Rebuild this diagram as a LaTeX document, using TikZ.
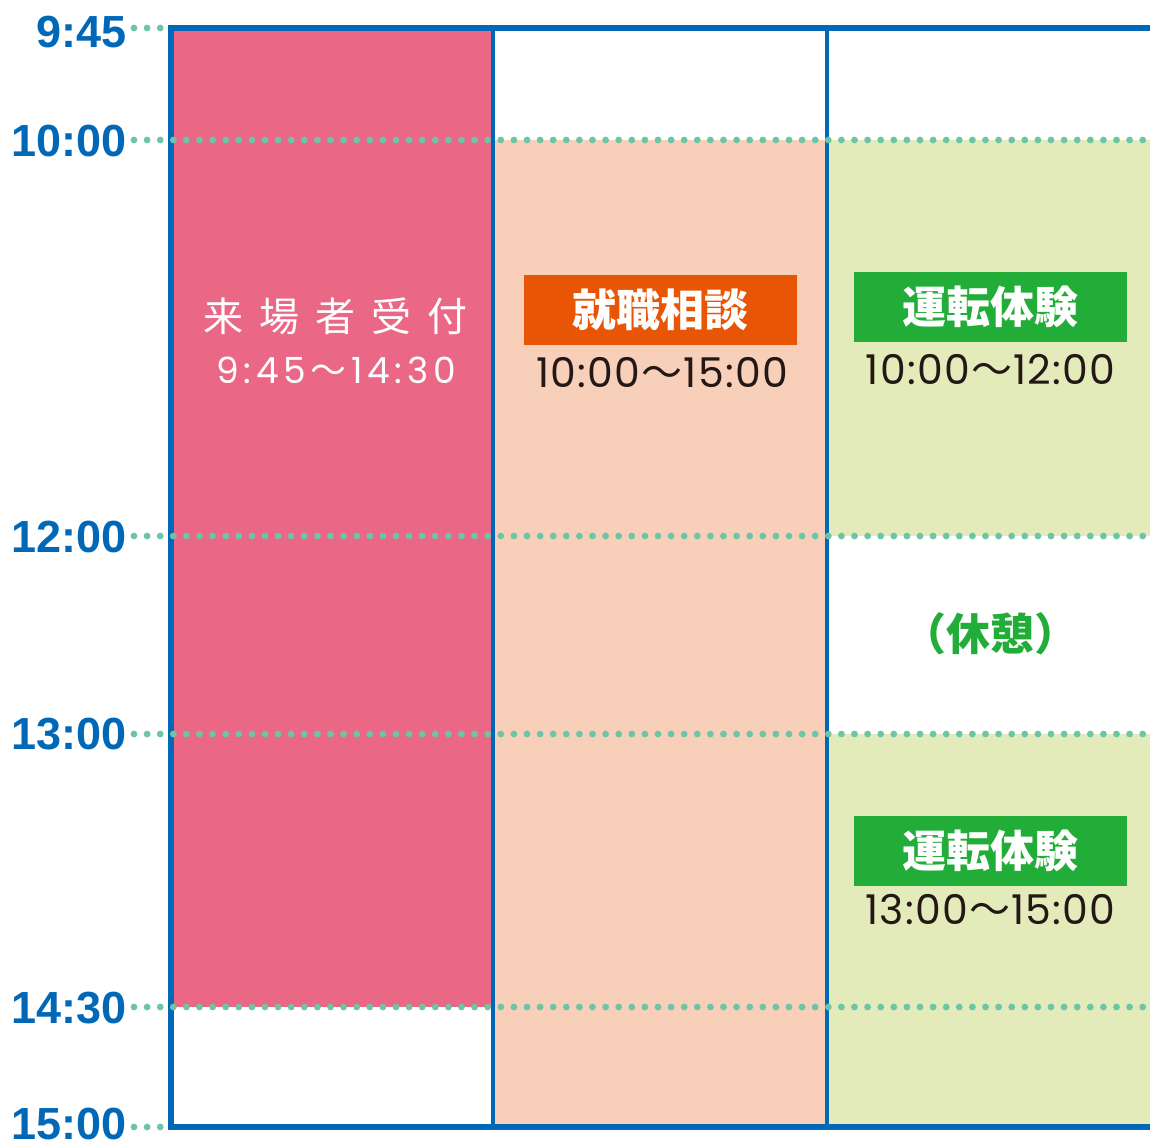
\documentclass[tikz,border=0pt]{standalone}
\usepackage{fontspec}
\setmainfont{Liberation Sans}
\newfontfamily\jp{Noto Sans CJK JP}
\newfontfamily\popA{Poppins}[LetterSpace=13]
\newfontfamily\popB{Poppins}[LetterSpace=3]
\definecolor{fblue}{HTML}{0068B7}
\definecolor{dotc}{HTML}{6CC5A6}
\definecolor{pinkc}{HTML}{EA6886}
\definecolor{peachc}{HTML}{F8CFB8}
\definecolor{lgreen}{HTML}{E2EBB9}
\definecolor{orangec}{HTML}{E85504}
\definecolor{greenc}{HTML}{22AC38}
\definecolor{txtc}{HTML}{231815}
\newcommand{\tmrangeA}[2]{{\popA #1}\hspace{4.7pt}{\jp 〜}\hspace{4.7pt}{\popA #2}}
\newcommand{\tmrangeB}[2]{{\popB #1}\hspace{1.3pt}{\jp 〜}\hspace{1.3pt}{\popB #2}}
\begin{document}
\begin{tikzpicture}[x=1pt,y=-1pt,
  dotline/.style={dotc,line width=6.8pt,line cap=round,dash pattern=on 0pt off 13.1pt},
  timelbl/.style={anchor=east,inner sep=0pt,text=fblue,font=\bfseries\fontsize{45}{45}\selectfont},
  tagbox/.style={minimum width=273pt,minimum height=70pt,inner sep=0pt,text=white,font=\jp\bfseries\fontsize{44}{44}\selectfont},
  rangetxt/.style={inner sep=0pt,text=txtc,font=\fontsize{41}{41}\selectfont}]
\useasboundingbox (0,0) rectangle (1150,1144);
% fills
\fill[pinkc] (171,28) rectangle (493,1007);
\fill[peachc] (493,140) rectangle (827,1127);
\fill[lgreen] (827,140) rectangle (1150,536);
\fill[lgreen] (827,734) rectangle (1150,1127);
% frame
\draw[fblue,line width=4pt] (493,28) -- (493,1127);
\draw[fblue,line width=4pt] (826.5,28) -- (826.5,1127);
\draw[fblue,line width=6pt,line join=miter] (1150,28) -- (171,28) -- (171,1127) -- (1150,1127);
% dotted lines
\draw[dotline] (134,28) -- (166,28);
\draw[dotline] (134,140) -- (1150,140);
\draw[dotline] (134,536) -- (1150,536);
\draw[dotline] (134,734) -- (1150,734);
\draw[dotline] (134,1007) -- (1150,1007);
\draw[dotline] (134,1127) -- (166,1127);
% time labels
\node[timelbl] (t945) at (127,32) {9:45};
\node[timelbl] (t1000) at (127,141) {10:00};
\node[timelbl] (t1200) at (127,537) {12:00};
\node[timelbl] (t1300) at (127,734) {13:00};
\node[timelbl] (t1430) at (127,1008) {14:30};
\node[timelbl] (t1500) at (127,1124) {15:00};
% column 1
\node[inner sep=0pt,text=white,font=\jp\fontsize{40}{40}\selectfont] (recv) at (335,316)
  {来\hspace{16pt}場\hspace{16pt}者\hspace{16pt}受\hspace{16pt}付};
\node[inner sep=0pt,text=white,font=\fontsize{36}{36}\selectfont] (recvt) at (336,370) {\tmrangeA{9:45}{14:30}};
% column 2
\node[tagbox,fill=orangec] (job) at (660.5,309.5) {就職相談};
\node[rangetxt] (jobt) at (662,372.5) {\tmrangeB{10:00}{15:00}};
% column 3
\node[tagbox,fill=greenc] (drv1) at (990.5,307) {運転体験};
\node[rangetxt] (drv1t) at (990.5,369.5) {\tmrangeB{10:00}{12:00}};
\node[text=greenc,inner sep=0pt,font=\jp\bfseries\fontsize{44}{44}\selectfont] (rest) at (990,634) {（休憩）};
\node[tagbox,fill=greenc] (drv2) at (990.5,851) {運転体験};
\node[rangetxt] (drv2t) at (990.5,909) {\tmrangeB{13:00}{15:00}};
\end{tikzpicture}
\end{document}
